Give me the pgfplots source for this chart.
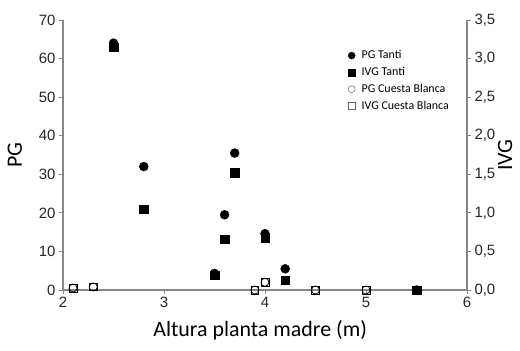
\documentclass[border=0pt]{standalone}
\usepackage{pgfplots}
\pgfplotsset{compat=1.18}
\usepackage{fontspec}
\setmainfont{Liberation Sans}
\newfontfamily\calibri{Carlito}
\definecolor{axgray}{RGB}{134,134,134}
\begin{document}
\begin{tikzpicture}
\pgfplotsset{every axis/.append style={
  scale only axis, width=404bp, height=270bp,
  axis line style={axgray, line width=1.3pt},
  tick style={axgray, line width=0.9pt},
  tick align=outside, major tick length=4bp,
  ticklabel style={font=\fontsize{15}{15}\selectfont, text=black!85},
  /pgf/number format/assume math mode=true,
  label style={font=\calibri\fontsize{22}{22}\selectfont},
  xmin=2, xmax=6,
  clip=false,
}}
\begin{axis}[at={(0,0)}, anchor=south west,
  ymin=0, ymax=70,
  axis x line*=bottom, axis y line*=left,
  xtick={2,3,4,5,6}, ytick={0,10,...,70},
  xlabel={Altura planta madre (m)},
  xlabel style={at={(axis description cs:0.488,-0.148)}, anchor=center},
  ylabel={PG},
  ylabel style={at={(axis description cs:-0.119,0.5)}, anchor=center, rotate=0},
]
% PG Cuesta Blanca (hollow circles)
\addplot[only marks, mark=o, mark size=4bp, black, mark options={fill=white, line width=0.8pt}] coordinates {
 (2.1,0.5) (2.3,0.8) (3.9,0) (4.0,2.0) (4.5,0) (5.0,0)};
% PG Tanti (filled circles)
\addplot[only marks, mark=*, mark size=4.5bp, black] coordinates {
 (2.5,64) (2.8,32) (3.5,4.3) (3.6,19.5) (3.7,35.5) (4.0,14.6) (4.2,5.5) (5.5,0)};
\end{axis}
\begin{axis}[at={(0,0)}, anchor=south west,
  ymin=0, ymax=3.5,
  axis x line=none, axis y line*=right,
  ytick={0,0.5,...,3.5},
  yticklabel style={/pgf/number format/.cd, fixed, fixed zerofill, precision=1, use comma},
  ylabel={IVG},
  ylabel style={at={(axis description cs:1.094,0.5)}, anchor=center, rotate=0},
  legend style={at={(axis description cs:0.698,0.90)}, anchor=north west, draw=none, fill=none,
    font=\calibri\fontsize{12}{13}\selectfont, row sep=4bp,
    nodes={inner sep=1.5bp},
    /tikz/every odd column/.style={column sep=5bp}},
  legend cell align=left,
]
% IVG Tanti
\addplot[only marks, mark=square*, mark size=4.3bp, black, forget plot] coordinates {
 (2.5,3.15) (2.8,1.05) (3.5,0.19) (3.6,0.66) (3.7,1.52) (4.0,0.675) (4.2,0.125) (5.5,0)};
% IVG Cuesta Blanca
\addplot[only marks, mark=square, mark size=3.9bp, black, mark options={fill=white, line width=0.8pt}, forget plot] coordinates {
 (2.1,0.025) (2.3,0.04) (3.9,0) (4.0,0.1) (4.5,0) (5.0,0)};
\addlegendimage{only marks, mark=*, black, mark size=3.5bp}
\addlegendentry{PG Tanti}
\addlegendimage{only marks, mark=square*, black, mark size=3.5bp}
\addlegendentry{IVG Tanti}
\addlegendimage{only marks, mark=o, black!60, mark size=3.5bp, mark options={line width=0.5pt}}
\addlegendentry{PG Cuesta Blanca}
\addlegendimage{only marks, mark=square, black!60, mark size=3.3bp, mark options={line width=0.5pt}}
\addlegendentry{IVG Cuesta Blanca}
\end{axis}
\pgfresetboundingbox
\path[use as bounding box] (-63bp,-61bp) rectangle (457bp,290bp);
\end{tikzpicture}
\end{document}
